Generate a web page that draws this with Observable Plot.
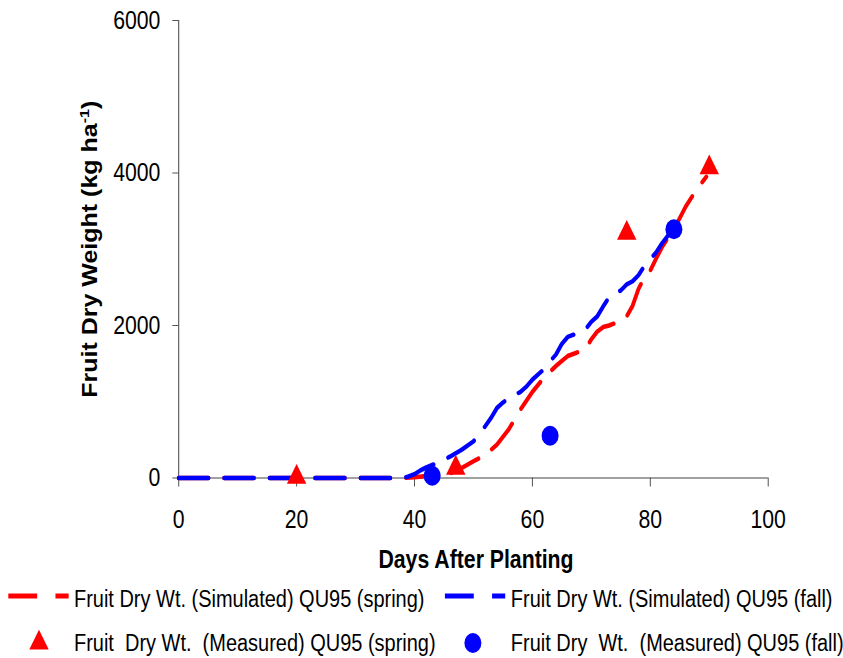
<!DOCTYPE html>
<html>
<head>
<meta charset="utf-8">
<script src="https://cdn.jsdelivr.net/npm/d3@7"></script>
<script src="https://cdn.jsdelivr.net/npm/@observablehq/plot@0.6"></script>
<style>
  html, body { margin: 0; padding: 0; background: white; }
  #chart { width: 843px; }
  #chart svg text { font-family: "Liberation Sans", Arial, sans-serif; }
  #chart g[aria-label$="tick"] path, #chart .tick line { stroke: #444; }
</style>
</head>
<body>
<div id="chart"></div>
<script>
// ---- data ----
const springDays = [0, 38, 40, 42, 44, 46, 48, 50, 52, 54, 56, 58, 60, 62, 64, 66, 68, 69, 70, 71, 72, 73, 74, 75, 76, 77, 78, 79, 80, 81, 82, 83, 84, 86, 88, 89.5];
const springSim  = [0, 0, 10, 25, 40, 60, 130, 220, 300, 440, 640, 900, 1130, 1320, 1470, 1600, 1660, 1690, 1820, 1920, 1980, 2000, 2030, 2060, 2120, 2260, 2480, 2630, 2720, 2880, 3030, 3150, 3260, 3560, 3800, 3950];

const fallDays = [0, 38, 39, 40, 41, 42, 44, 46, 48, 50, 51, 52, 53, 54, 55, 56, 58, 59, 60, 61, 62, 63, 64, 65, 66, 67, 68, 69, 70, 71, 72, 73, 74, 75, 76, 77, 78, 79, 80, 81, 82, 83, 84];
const fallSim  = [0, 0, 20, 50, 100, 140, 200, 280, 370, 480, 580, 680, 790, 920, 990, 1050, 1130, 1200, 1290, 1360, 1430, 1530, 1620, 1760, 1850, 1880, 1920, 1950, 2050, 2120, 2250, 2370, 2420, 2460, 2540, 2580, 2660, 2780, 2870, 2960, 3080, 3180, 3260];

const springMeasDays = [20, 47, 76, 90];
const springMeas     = [10, 130, 3210, 4070];
const fallMeasDays = [43, 63, 84];
const fallMeas     = [30, 554, 3262];

const xTicks = [0, 20, 40, 60, 80, 100];
const yTicks = [0, 2000, 4000, 6000];

const xLabel = "Days After Planting";
const yLabelParts = ["Fruit Dry Weight (kg ha", "-1", ")"];

const legendLabels = [
  "Fruit Dry Wt. (Simulated) QU95 (spring)",
  "Fruit Dry Wt. (Simulated) QU95 (fall)",
  "Fruit  Dry Wt.  (Measured) QU95 (spring)",
  "Fruit Dry  Wt.  (Measured) QU95 (fall)"
];
const RED = "#ff0000", BLUE = "#0000ff";

// ---- tables ----
const spring = springDays.map((d, i) => ({day: d, w: springSim[i]}));
const fall = fallDays.map((d, i) => ({day: d, w: fallSim[i]}));
const springM = springMeasDays.map((d, i) => ({day: d, w: springMeas[i]}));
const fallM = fallMeasDays.map((d, i) => ({day: d, w: fallMeas[i]}));

// horizontal squeeze factor of the reference
const S = 0.85;
const W = Math.round(843 / S), H = 580;
const FONT = "'Liberation Sans', Arial, sans-serif";
const yLabel = yLabelParts.join("");

const svg = Plot.plot({
  width: W, height: H,
  marginLeft: 209.8, marginRight: W - 903.5, marginTop: 20, marginBottom: H - 477.5,
  style: {fontFamily: FONT, fontSize: "25px", color: "#000", background: "white", overflow: "visible"},
  x: {domain: [0, 100], ticks: xTicks, tickSize: 9, tickPadding: 22.8, tickFormat: d => String(d), label: null},
  y: {domain: [0, 6000], ticks: yTicks, tickSize: 7, tickPadding: 14.5, tickFormat: d => String(d), label: null},
  marks: [
    Plot.ruleY([0], {stroke: "#444", strokeWidth: 1.2}),
    Plot.ruleX([0], {stroke: "#444", strokeWidth: 1.2}),
    Plot.line(spring, {x: "day", y: "w", stroke: RED, strokeWidth: 4.5, strokeDasharray: "35,18.5"}),
    Plot.line(fall, {x: "day", y: "w", stroke: BLUE, strokeWidth: 4.5, strokeDasharray: "35,18.5"}),
    Plot.dot(springM, {x: "day", y: "w", symbol: "triangle", r: 8.5, fill: RED, stroke: null}),
    Plot.dot(fallM, {x: "day", y: "w", symbol: "circle", r: 10, fill: BLUE, stroke: null}),
    Plot.text([xLabel], {text: d => d, frameAnchor: "bottom", textAnchor: "middle", lineAnchor: "bottom", dy: 90, dx: 3,
      fontWeight: "bold", fontSize: 25, fill: "#000"}),
    Plot.text([yLabel], {text: d => d, frameAnchor: "left", textAnchor: "middle", lineAnchor: "middle", dx: -104, rotate: -90,
      fontWeight: "bold", fontSize: 25, fill: "#000"})
  ]
});

// superscript in y label
d3.select(svg).selectAll("text").each(function() {
  if (this.textContent === yLabel) {
    const t = d3.select(this);
    t.text("");
    t.append("tspan").text(yLabelParts[0]);
    t.append("tspan").attr("dy", "-9px").attr("font-size", "16px").text(yLabelParts[1]);
    t.append("tspan").attr("dy", "9px").attr("font-size", "25px").text(yLabelParts[2]);
  }
});

svg.setAttribute("viewBox", `0 0 ${W} ${H}`);
svg.setAttribute("preserveAspectRatio", "none");
svg.setAttribute("width", 843);
svg.setAttribute("height", H);
svg.style.width = "843px";
svg.style.height = H + "px";
svg.style.maxWidth = "none";
svg.style.display = "block";
document.getElementById("chart").appendChild(svg);

// ---- legend (below the chart), same horizontal squeeze ----
const LH = 78;
const leg = d3.create("svg")
  .attr("width", 843).attr("height", LH)
  .attr("viewBox", `0 0 ${W} ${LH}`)
  .attr("preserveAspectRatio", "none")
  .style("display", "block").style("width", "843px").style("height", LH + "px");

const px = v => v / S; // convert reference px to unsqueezed units
const row1 = 16, row2 = 63;
const colX = [px(8.3), px(445)];
const textX = [px(74), px(511)];
const colors = [RED, BLUE];
const fs = 23.5;

[0, 1].forEach(c => {
  const x0 = colX[c];
  leg.append("line").attr("x1", x0).attr("x2", x0 + 34).attr("y1", row1).attr("y2", row1)
    .attr("stroke", colors[c]).attr("stroke-width", 5);
  leg.append("line").attr("x1", x0 + 55.5).attr("x2", x0 + 71).attr("y1", row1).attr("y2", row1)
    .attr("stroke", colors[c]).attr("stroke-width", 5);
  leg.append("text").attr("x", textX[c]).attr("y", row1 + 3 + 0.358 * fs)
    .attr("font-family", FONT).attr("font-size", fs).attr("fill", "#000")
    .style("white-space", "pre").text(legendLabels[c]);
  leg.append("text").attr("x", textX[c]).attr("y", row2 + 0.358 * fs)
    .attr("font-family", FONT).attr("font-size", fs).attr("fill", "#000")
    .style("white-space", "pre").text(legendLabels[2 + c]);
});
leg.append("path").attr("transform", `translate(${px(39)},${row2})`)
  .attr("d", d3.symbol(d3.symbolTriangle, Math.PI * 8.5 * 8.5)()).attr("fill", RED);
leg.append("circle").attr("cx", px(473)).attr("cy", row2).attr("r", 10).attr("fill", BLUE);

document.getElementById("chart").appendChild(leg.node());
</script>
</body>
</html>
